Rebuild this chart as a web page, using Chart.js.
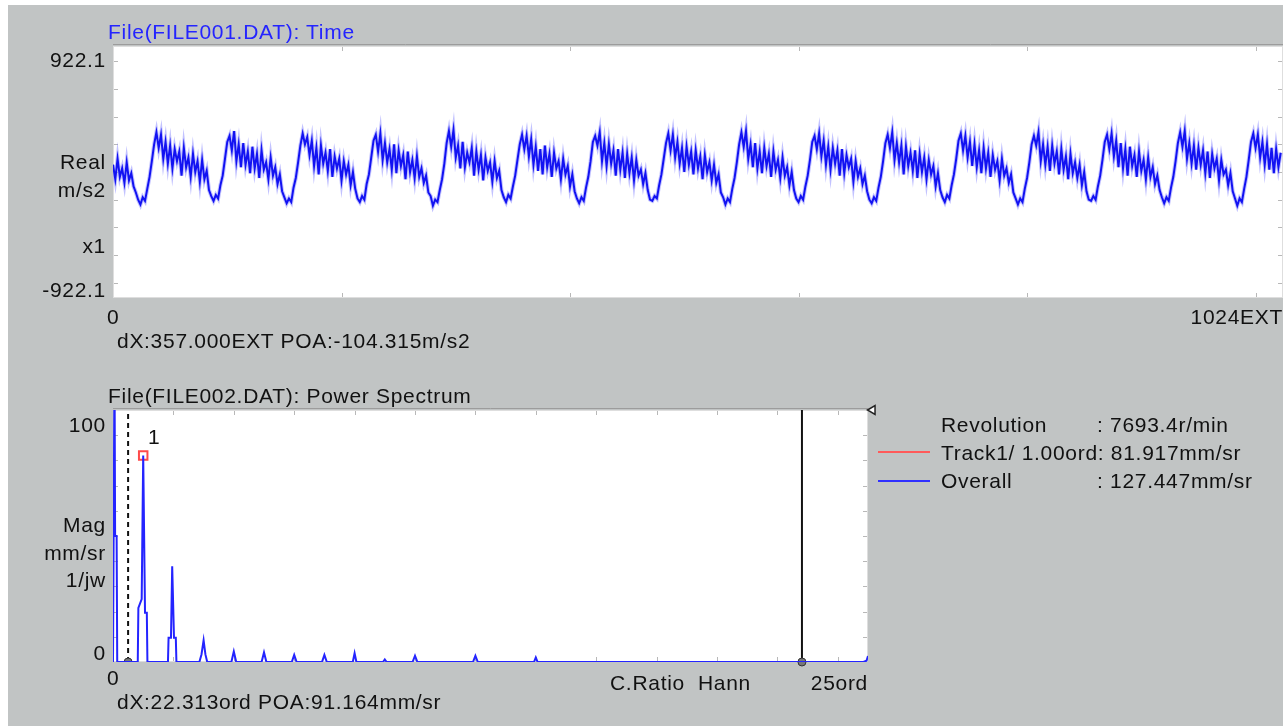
<!DOCTYPE html>
<html>
<head>
<meta charset="utf-8">
<script src="https://cdn.jsdelivr.net/npm/chart.js@4.4.1/dist/chart.umd.min.js"></script>
<style>
  html, body { margin: 0; padding: 0; overflow: hidden; background: #fff; }
  #panel { position: absolute; left: 8px; top: 5px; width: 1275px; height: 721px; background: #c1c4c4; }
  canvas { position: absolute; left: 0; }
  .t { position: absolute; font-family: "Liberation Sans", Arial, sans-serif; font-size: 21px;
       letter-spacing: 0.7px; line-height: 24px; height: 24px; white-space: pre; color: #111; }
  .r { text-align: right; }
  .key { position: absolute; height: 2px; width: 52px; }
</style>
</head>
<body>
<div id="panel"></div>
<canvas id="timeChart" width="1283" height="330" style="top:0"></canvas>
<canvas id="specChart" width="1283" height="320" style="top:380px"></canvas>
<div id="labels"></div>
<script>
// time record, one value every 2 samples (m/s2)
var timeStep = 2;
var timeValues = [
  60,-60,110,-40,30,-90,80,-70,-10,-120,-170,-230,
  -270,-210,-240,-140,-40,90,230,330,200,310,110,250,70,220,30,190,90,170,-30,200,40,120,-40,150,0,90,-80,100,-60,10,-150,-200,
  -240,-190,-220,-110,-30,110,250,300,180,340,90,230,40,240,60,170,-10,210,30,150,-50,180,20,80,-60,120,-30,40,-100,-20,-160,-210,
  -260,-220,-250,-130,-50,80,220,320,230,290,140,260,50,200,-20,220,70,160,10,190,-40,130,30,110,-70,90,-20,60,-110,0,-140,-220,
  -250,-200,-230,-100,-20,120,260,310,170,320,100,240,80,190,20,230,-10,180,50,140,-60,170,0,100,-50,130,-40,30,-90,-30,-170,-200,
  -280,-230,-250,-150,-60,70,240,340,210,350,120,220,30,250,40,160,80,200,-30,170,20,140,-70,120,10,80,-80,90,-50,10,-150,-210,
  -250,-190,-220,-120,-30,100,230,310,190,300,130,270,60,210,10,190,-20,220,40,150,-40,160,30,90,-60,110,-20,50,-120,-20,-160,-220,
  -260,-210,-240,-130,-40,90,250,300,220,330,90,240,50,230,70,180,-30,190,20,160,-50,150,-10,120,-70,100,-30,20,-100,-10,-150,-230,
  -240,-200,-220,-110,-20,110,240,320,180,310,120,250,70,200,0,210,60,170,-20,180,30,130,-60,140,0,80,-70,60,-90,-20,-170,-210,
  -270,-220,-250,-140,-50,80,230,330,210,340,110,230,40,240,30,170,-10,200,50,150,-40,170,20,100,-50,120,-30,40,-110,0,-150,-220,
  -250,-200,-230,-120,-30,100,250,300,190,320,130,260,60,210,20,200,70,180,-30,190,-10,140,40,110,-80,90,-40,30,-100,-30,-160,-230,
  -260,-210,-240,-130,-40,90,240,310,200,330,100,240,80,220,-20,210,50,160,10,180,-50,150,0,120,-60,100,-20,50,-120,-10,-150,-210,
  -250,-190,-220,-110,-20,110,260,320,180,300,120,250,50,230,40,180,-10,200,30,160,-40,140,20,90,-70,110,-30,30,-90,-20,-170,-220,
  -270,-220,-250,-140,-50,80,230,300,220,330,90,230,60,210,10,220,70,170,-20,190,20,130,-60,150,-10,80,-50,60,-110,0,-160,-230,
  -240,-200,-230,-120,-30,100,250,310,190,320,130,260,40,240,30,190,-30,210,50,140,-40,170,10,100,-60,120,-40,40,-100,-30,-150,-210,
  -260,-210,-240,-130,-40,90,240,330,210,340,110,240,70,220,20,200,60,180,-10,170,-50,150,30,110,-70,100,-20,20,-110,-10,-160,-220,
  -280,-220,-250,-140,-40,100,250,320,200,310,120,250,60,230,20,200,-10,190,40,160
];
var timeRange = [-1047, 1047];
var timeXTicks = [0, 200, 400, 600, 800, 1000];
var timeYTicks = [-922.1, -691.6, -461.05, -230.5, 0, 230.5, 461.05, 691.6, 922.1];

// power spectrum (ord vs mm/sr)
var specOrd = [0, 0.03, 0.05, 0.07, 0.12, 0.14, 0.82, 0.84, 0.95, 1.0, 1.06, 1.12, 1.14,
  1.82, 1.84, 1.92, 1.96, 2.02, 2.08, 2.1, 2.86, 2.93, 3.0, 3.06, 3.12,
  3.92, 4.0, 4.08, 4.92, 5.0, 5.08, 5.92, 6.0, 6.08, 6.92, 7.0, 7.08, 7.94, 8.0, 8.06,
  8.94, 9.0, 9.06, 9.92, 10.0, 10.08, 11.92, 12.0, 12.08, 13.94, 14.0, 14.06, 24.85, 24.95, 25];
var specMag = [0, 0, 120, 50, 50, 0, 0, 21.5, 25, 81.9, 19.5, 19.5, 0,
  0, 9.6, 9.6, 38, 9.6, 9.6, 0, 0, 3, 8.6, 3, 0,
  0, 4.2, 0, 0, 3.8, 0, 0, 2.8, 0, 0, 2.8, 0, 0, 3.5, 0,
  0, 1, 0, 0, 2.5, 0, 0, 2.5, 0, 0, 1.8, 0, 0, 0.5, 2.4];
var trackPoint = [1.0, 81.917];
var cursorOrd = [0.5, 22.813];
var specXTicks = [2, 4, 6, 8, 10, 12, 14, 16, 18, 20, 22, 24];
var specYTicks = [10, 20, 30, 40, 50, 60, 70, 80, 90];

var framePlugin = {
  id: 'frame',
  beforeDatasetsDraw: function (chart, args, opts) {
    var ctx = chart.ctx, a = chart.chartArea;
    var xs = chart.scales.x, ys = chart.scales.y;
    ctx.save();
    ctx.fillStyle = '#ffffff';
    ctx.fillRect(a.left, a.top, a.right - a.left, a.bottom - a.top);
    ctx.strokeStyle = '#9c9c9c';
    ctx.lineWidth = 1;
    ctx.beginPath();
    ctx.moveTo(a.left, a.top - 1.5); ctx.lineTo(a.right, a.top - 1.5);
    ctx.stroke();
    ctx.strokeStyle = '#b8b8b8';
    ctx.beginPath();
    opts.xTicks.forEach(function (v) {
      var px = Math.round(xs.getPixelForValue(v)) + 0.5;
      ctx.moveTo(px, a.top); ctx.lineTo(px, a.top + 5);
      ctx.moveTo(px, a.bottom - 5); ctx.lineTo(px, a.bottom);
    });
    opts.yTicks.forEach(function (v) {
      var py = Math.round(ys.getPixelForValue(v)) + 0.5;
      ctx.moveTo(a.left, py); ctx.lineTo(a.left + 5, py);
      ctx.moveTo(a.right - 5, py); ctx.lineTo(a.right, py);
    });
    ctx.stroke();
    ctx.strokeStyle = '#dedede';
    ctx.strokeRect(a.left + 0.5, a.top + 0.5, a.right - a.left - 1, a.bottom - a.top - 1);
    ctx.restore();
  }
};

var timePoints = timeValues.map(function (v, i) { return { x: i * timeStep, y: v }; });

new Chart(document.getElementById('timeChart'), {
  type: 'line',
  data: {
    datasets: [{
      data: timePoints,
      borderColor: '#1212f2',
      borderWidth: 2,
      pointRadius: 0,
      tension: 0,
      order: 1
    }, {
      // soft halo under the trace
      data: timePoints,
      borderColor: 'rgba(120,120,255,0.45)',
      borderWidth: 4,
      pointRadius: 0,
      tension: 0,
      order: 2
    }]
  },
  options: {
    responsive: false,
    animation: false,
    devicePixelRatio: 1,
    layout: { padding: { left: 113, top: 46, right: 0, bottom: 32 } },
    plugins: { legend: { display: false }, tooltip: { enabled: false },
      frame: { xTicks: timeXTicks, yTicks: timeYTicks } },
    scales: {
      x: { type: 'linear', min: 0, max: 1024, display: false },
      y: { min: timeRange[0], max: timeRange[1], display: false }
    }
  },
  plugins: [framePlugin]
});

new Chart(document.getElementById('specChart'), {
  type: 'line',
  data: {
    datasets: [{
      data: specOrd.map(function (o, i) { return { x: o, y: specMag[i] }; }),
      borderColor: '#2424ff',
      borderWidth: 2,
      pointRadius: 0,
      tension: 0
    }, {
      data: [{ x: cursorOrd[0], y: 0 }, { x: cursorOrd[0], y: 100 }],
      borderColor: '#111',
      borderWidth: 2,
      borderDash: [5, 4],
      pointRadius: [4, 0],
      pointBackgroundColor: '#777',
      pointBorderColor: '#333',
      pointBorderWidth: 1
    }, {
      data: [{ x: cursorOrd[1], y: 0 }, { x: cursorOrd[1], y: 100 }],
      borderColor: '#111',
      borderWidth: 2,
      pointRadius: [4, 0],
      pointBackgroundColor: '#777',
      pointBorderColor: '#333',
      pointBorderWidth: 1,
      clip: false
    }, {
      type: 'scatter',
      data: [{ x: trackPoint[0], y: trackPoint[1] }],
      pointStyle: 'rect',
      pointRadius: 6,
      pointBorderColor: '#ff4a4a',
      pointBackgroundColor: 'rgba(0,0,0,0)',
      pointBorderWidth: 2,
      clip: false
    }, {
      type: 'scatter',
      data: [{ x: 25.15, y: 100 }],
      pointStyle: 'triangle',
      rotation: -90,
      pointRadius: 5,
      pointBorderColor: '#222',
      pointBackgroundColor: '#fff',
      pointBorderWidth: 1.5,
      clip: false
    }]
  },
  options: {
    responsive: false,
    animation: false,
    devicePixelRatio: 1,
    layout: { padding: { left: 113, top: 30, right: 415, bottom: 38 } },
    plugins: { legend: { display: false }, tooltip: { enabled: false },
      frame: { xTicks: specXTicks, yTicks: specYTicks } },
    scales: {
      x: { type: 'linear', min: 0, max: 25, display: false },
      y: { min: 0, max: 100, display: false }
    }
  },
  plugins: [framePlugin]
});

// text around the plots
var texts = [
  ['File(FILE001.DAT): Time', 108, 32, 'l', '#2424ff'],
  ['922.1', 106, 60, 'r'], ['Real', 106, 162, 'r'], ['m/s2', 106, 190, 'r'],
  ['x1', 106, 246, 'r'], ['-922.1', 106, 290, 'r'],
  ['0', 107, 317, 'l'], ['1024EXT', 1283, 317, 'r'],
  ['dX:357.000EXT POA:-104.315m/s2', 117, 341, 'l'],
  ['File(FILE002.DAT): Power Spectrum', 108, 396, 'l'],
  ['100', 106, 425, 'r'], ['Mag', 106, 525, 'r'], ['mm/sr', 106, 553, 'r'],
  ['1/jw', 106, 580, 'r'], ['0', 106, 653, 'r'], ['1', 148, 437, 'l'],
  ['0', 107, 678, 'l'], ['C.Ratio  Hann', 610, 683, 'l'], ['25ord', 868, 683, 'r'],
  ['dX:22.313ord POA:91.164mm/sr', 117, 702, 'l'],
  ['Revolution', 941, 425, 'l'], [': 7693.4r/min', 1097, 425, 'l'],
  ['Track1/ 1.00ord: 81.917mm/sr', 941, 453, 'l'],
  ['Overall', 941, 481, 'l'], [': 127.447mm/sr', 1097, 481, 'l']
];
var box = document.getElementById('labels');
texts.forEach(function (t) {
  var d = document.createElement('div');
  d.className = 't' + (t[3] === 'r' ? ' r' : '');
  d.textContent = t[0];
  d.style.top = (t[2] - 12) + 'px';
  if (t[3] === 'r') { d.style.right = (1283 - t[1]) + 'px'; } else { d.style.left = t[1] + 'px'; }
  if (t[4]) d.style.color = t[4];
  box.appendChild(d);
});
[['#ff5a5a', 452], ['#3030ff', 481]].forEach(function (k) {
  var d = document.createElement('div');
  d.className = 'key';
  d.style.left = '878px';
  d.style.top = (k[1] - 1) + 'px';
  d.style.background = k[0];
  box.appendChild(d);
});
</script>
</body>
</html>
